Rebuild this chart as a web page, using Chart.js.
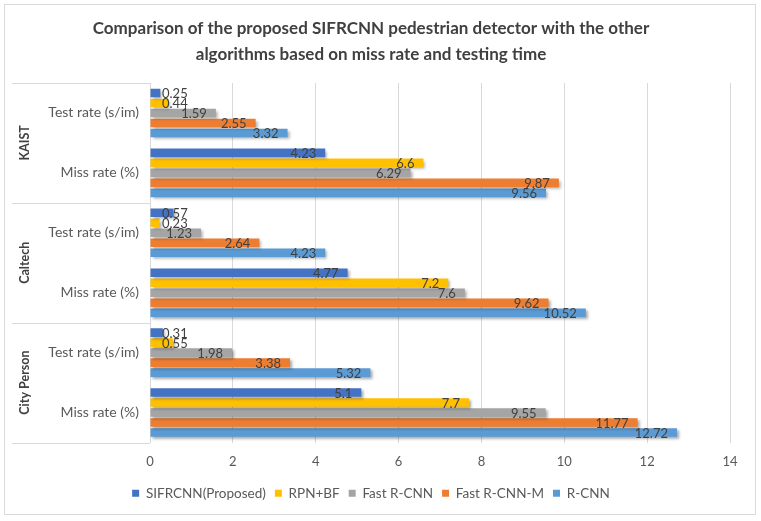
<!DOCTYPE html>
<html>
<head>
<meta charset="utf-8">
<script src="https://cdn.jsdelivr.net/npm/chart.js@4.4.0/dist/chart.umd.min.js"></script>
<style>
  html, body { margin: 0; padding: 0; background: #fff; }
  #wrap { width: 761px; height: 521px; }
</style>
</head>
<body>
<div id="wrap"><canvas id="chart" width="761" height="521"></canvas></div>
<script>
'use strict';

// Data.
const groups = ['KAIST', 'Caltech', 'City Person'];
const measures = ['Test rate (s/im)', 'Miss rate (%)'];
const seriesNames = ['SIFRCNN(Proposed)', 'RPN+BF', 'Fast R-CNN', 'Fast R-CNN-M', 'R-CNN'];

// Order: KAIST test, KAIST miss, Caltech test, Caltech miss, City Person test, City Person miss.
const sifrcnn = [0.25, 4.23, 0.57, 4.77, 0.31, 5.1];
const rpnBf = [0.44, 6.6, 0.23, 7.2, 0.55, 7.7];
const fastRcnn = [1.59, 6.29, 1.23, 7.6, 1.98, 9.55];
const fastRcnnM = [2.55, 9.87, 2.64, 9.62, 3.38, 11.77];
const rcnn = [3.32, 9.56, 4.23, 10.52, 5.32, 12.72];

const xTicks = [0, 2, 4, 6, 8, 10, 12, 14];

const categories = [];
groups.forEach(() => measures.forEach((m) => categories.push(m)));

const FONT = 'Lato, "Open Sans", sans-serif';
const colors = ['#4472C4', '#FFC000', '#A5A5A5', '#ED7D31', '#5B9BD5'];
const values = [sifrcnn, rpnBf, fastRcnn, fastRcnnM, rcnn];

const datasets = seriesNames.map((name, i) => ({
    label: name,
    data: values[i],
    backgroundColor: colors[i],
    borderWidth: 0,
    categoryPercentage: 0.833,
    barPercentage: 0.86,
}));

// Outer light frame round the picture.
const framePlugin = {
    id: 'frame',
    beforeDraw: (chart) => {
        const ctx = chart.ctx;
        ctx.save();
        ctx.fillStyle = '#ffffff';
        ctx.fillRect(0, 0, chart.width, chart.height);
        ctx.strokeStyle = '#D9D9D9';
        ctx.lineWidth = 1;
        ctx.strokeRect(4.5, 4.5, 751, 510);
        ctx.restore();
    },
};

// Soft drop shadow under the bars.
const shadowPlugin = {
    id: 'barShadow',
    beforeDatasetsDraw: (chart) => {
        const ctx = chart.ctx;
        ctx.save();
        ctx.shadowColor = 'rgba(0, 0, 0, 0.35)';
        ctx.shadowBlur = 3;
        ctx.shadowOffsetX = 2;
        ctx.shadowOffsetY = 2;
    },
    afterDatasetsDraw: (chart) => {
        chart.ctx.restore();
    },
};

// Value labels at the inside end of each bar.
const labelPlugin = {
    id: 'barLabels',
    afterDatasetsDraw: (chart) => {
        const ctx = chart.ctx;
        const left = chart.chartArea.left;
        ctx.save();
        ctx.font = '13px ' + FONT;
        ctx.fillStyle = '#404040';
        ctx.textBaseline = 'middle';
        ctx.textAlign = 'left';
        chart.data.datasets.forEach((ds, di) => {
            const meta = chart.getDatasetMeta(di);
            meta.data.forEach((bar, i) => {
                const text = String(ds.data[i]);
                const w = ctx.measureText(text).width;
                const x = Math.max(bar.x - 9 - w, left + 12);
                ctx.fillText(text, x, bar.y + 1);
            });
        });
        ctx.restore();
    },
};

// Second level of the category axis: group names and divider lines.
const groupAxisPlugin = {
    id: 'groupAxis',
    afterDraw: (chart) => {
        const ctx = chart.ctx;
        const area = chart.chartArea;
        const yScale = chart.scales.y;
        const step = (area.bottom - area.top) / categories.length;
        ctx.save();
        ctx.strokeStyle = '#D9D9D9';
        ctx.lineWidth = 1;
        for (let g = 0; g <= groups.length; g++) {
            const y = Math.round(yScale.getPixelForValue(g * measures.length) - step / 2) + 0.5;
            ctx.beginPath();
            ctx.moveTo(12, y);
            ctx.lineTo(area.left, y);
            ctx.stroke();
        }
        ctx.font = 'bold 12.5px ' + FONT;
        ctx.fillStyle = '#404040';
        ctx.textAlign = 'center';
        ctx.textBaseline = 'middle';
        groups.forEach((name, g) => {
            const y0 = yScale.getPixelForValue(g * measures.length) - step / 2;
            const yc = y0 + step * measures.length / 2;
            ctx.save();
            ctx.translate(25, yc);
            ctx.rotate(-Math.PI / 2);
            ctx.fillText(name, 0, 0);
            ctx.restore();
        });
        ctx.restore();
    },
};

new Chart(document.getElementById('chart'), {
    type: 'bar',
    data: {
        labels: categories,
        datasets: datasets,
    },
    options: {
        indexAxis: 'y',
        responsive: false,
        animation: false,
        devicePixelRatio: 1,
        layout: {
            padding: {left: 12, right: 31, top: 0, bottom: 11},
        },
        scales: {
            x: {
                min: 0,
                max: 14,
                afterBuildTicks: (scale) => {
                    scale.ticks = xTicks.map((v) => ({value: v}));
                },
                afterFit: (scale) => {
                    scale.height = 35;
                },
                grid: {
                    color: '#D9D9D9',
                    drawTicks: false,
                },
                border: {display: false},
                ticks: {
                    padding: 12,
                    color: '#595959',
                    font: {family: FONT, size: 13},
                },
            },
            y: {
                grid: {display: false, drawTicks: false},
                border: {display: false},
                afterFit: (scale) => {
                    scale.width = 138;
                },
                ticks: {
                    padding: 11,
                    color: '#595959',
                    font: {family: FONT, size: 14},
                },
            },
        },
        plugins: {
            title: {
                display: true,
                text: [
                    'Comparison of the proposed SIFRCNN pedestrian detector with the other',
                    'algorithms based on miss rate and testing time',
                ],
                color: '#404040',
                font: {family: FONT, size: 17, weight: 'bold', lineHeight: 1.5},
                padding: {top: 16, bottom: 16},
            },
            legend: {
                position: 'bottom',
                labels: {
                    boxWidth: 7,
                    boxHeight: 7,
                    padding: 9,
                    color: '#595959',
                    font: {family: FONT, size: 13.5},
                },
            },
            tooltip: {enabled: false},
        },
    },
    plugins: [framePlugin, shadowPlugin, labelPlugin, groupAxisPlugin],
});
</script>
</body>
</html>
